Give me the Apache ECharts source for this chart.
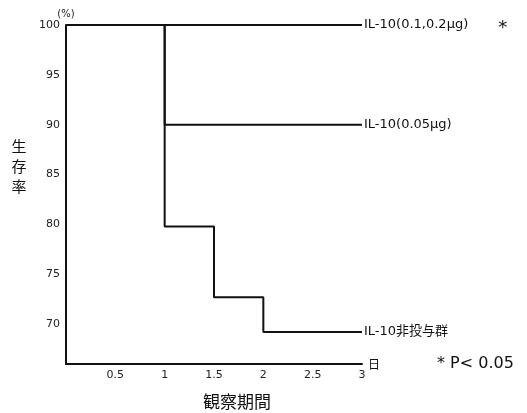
<!DOCTYPE html>
<html>
<head>
<meta charset="utf-8">
<script src="https://cdn.jsdelivr.net/npm/echarts@6/dist/echarts.min.js"></script>
<style>
  html, body { margin: 0; padding: 0; background: #fff; }
  #chart { width: 527px; height: 413px; }
</style>
</head>
<body>
<div id="chart"></div>
<script>
// survival curves (day, %)
const highDays = [0, 3];
const highRate = [100, 100];
const midDays = [0, 1, 3];
const midRate = [100, 90, 90];
const ctrlDays = [0, 1, 1.5, 2, 3];
const ctrlRate = [100, 79.8, 72.7, 69.2, 69.2];

const seriesNames = ['IL-10(0.1,0.2μg)', 'IL-10(0.05μg)', 'IL-10非投与群'];
const yTicks = [70, 75, 80, 85, 90, 95, 100];
const xTicks = [0.5, 1, 1.5, 2, 2.5, 3];

const font = '"DejaVu Sans", "Noto Sans CJK JP", sans-serif';
const cjk = '"Noto Sans CJK JP", sans-serif';
const chart = echarts.init(document.getElementById('chart'));

function toPairs(xs, ys) {
    return xs.map((x, i) => [x, ys[i]]);
}

function stepLine(name, data, extra) {
    return {
        name: name,
        type: 'line',
        step: 'end',
        data: data,
        symbol: 'none',
        lineStyle: { color: '#111', width: 2 },
        endLabel: Object.assign({
            show: true,
            distance: 2,
            formatter: name,
            color: '#111',
            fontSize: 13,
            fontFamily: font,
        }, extra || {}),
        z: 3,
    };
}

const option = {
    animation: false,
    backgroundColor: '#fff',
    grid: { left: 66, top: 25, width: 296, height: 339 },
    xAxis: {
        type: 'value',
        min: 0,
        max: 3,
        name: '日',
        nameLocation: 'end',
        nameGap: 6,
        nameTextStyle: { color: '#111', fontSize: 12, fontFamily: cjk, verticalAlign: 'middle' },
        axisLine: { show: true, onZero: false, lineStyle: { color: '#111', width: 2 } },
        axisTick: { show: false },
        splitLine: { show: false },
        axisLabel: {
            margin: 6,
            color: '#222',
            fontSize: 11,
            fontFamily: font,
            formatter: v => xTicks.includes(v) ? String(v) : '',
        },
    },
    yAxis: {
        type: 'value',
        min: 66,
        max: 100,
        splitNumber: 7,
        name: '(%)',
        nameLocation: 'end',
        nameGap: 6,
        nameTextStyle: { color: '#222', fontSize: 10, fontFamily: font, align: 'center' },
        axisLine: { show: true, lineStyle: { color: '#111', width: 2 } },
        axisTick: { show: false },
        splitLine: { show: false },
        axisLabel: {
            margin: 6,
            color: '#222',
            fontSize: 11,
            fontFamily: font,
            formatter: v => yTicks.includes(v) ? String(v) : '',
        },
    },
    series: [
        stepLine(seriesNames[0], toPairs(highDays, highRate), {
            formatter: '{a|' + seriesNames[0] + '}{s|*}',
            rich: {
                a: { color: '#111', fontSize: 13, fontFamily: font },
                s: { color: '#111', fontSize: 18, fontFamily: font, padding: [6, 0, 0, 30] },
            },
        }),
        stepLine(seriesNames[1], toPairs(midDays, midRate)),
        stepLine(seriesNames[2], toPairs(ctrlDays, ctrlRate)),
    ],
    graphic: [
        {
            type: 'text',
            x: 19,
            y: 136,
            style: {
                text: '生\n存\n率',
                font: '15px ' + cjk,
                fill: '#111',
                textAlign: 'center',
                lineHeight: 20,
            },
        },
        {
            type: 'text',
            x: 237,
            y: 402,
            style: {
                text: '観察期間',
                font: '17px ' + cjk,
                fill: '#111',
                textAlign: 'center',
                textVerticalAlign: 'middle',
            },
        },
        {
            type: 'text',
            x: 437,
            y: 364,
            style: {
                text: '* P< 0.05',
                font: '16px ' + font,
                fill: '#111',
                textVerticalAlign: 'middle',
            },
        },
    ],
};

chart.setOption(option);
</script>
</body>
</html>
